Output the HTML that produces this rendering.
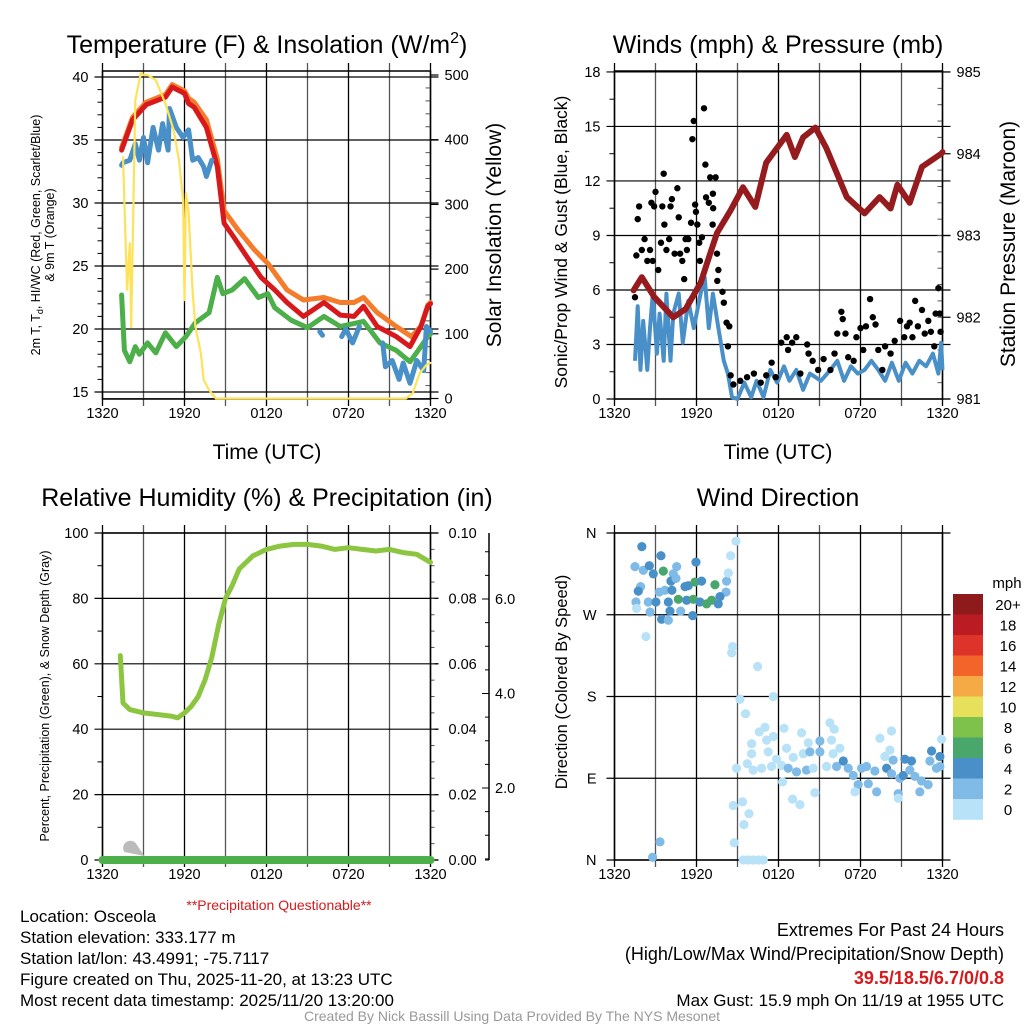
<!DOCTYPE html>
<html><head><meta charset="utf-8"><style>
body{margin:0;background:#fff}
svg{display:block;font-family:"Liberation Sans",Arial,sans-serif}
</style></head><body>
<svg id="c" width="1024" height="1024" viewBox="0 0 1024 1024" xmlns="http://www.w3.org/2000/svg">
<g id="layer"></g>
<text x="267" y="53" font-size="25" text-anchor="middle">Temperature (F) &amp; Insolation (W/m<tspan font-size="16" dy="-10">2</tspan><tspan dy="10">)</tspan></text>
<text x="778" y="53" font-size="25" text-anchor="middle">Winds (mph) &amp; Pressure (mb)</text>
<text x="267" y="506" font-size="25" text-anchor="middle">Relative Humidity (%) &amp; Precipitation (in)</text>
<text x="778" y="506" font-size="25" text-anchor="middle">Wind Direction</text>
<text x="267" y="459" font-size="21" text-anchor="middle">Time (UTC)</text>
<text x="778" y="459" font-size="21" text-anchor="middle">Time (UTC)</text>
<text transform="translate(40,235) rotate(-90)" font-size="12.5" text-anchor="middle">2m T, T<tspan font-size="9" dy="3">d</tspan><tspan dy="-3">, HI/WC (Red, Green, Scarlet/Blue)</tspan></text>
<text transform="translate(54,235) rotate(-90)" font-size="12.5" text-anchor="middle">&amp; 9m T (Orange)</text>
<text transform="translate(501,235) rotate(-90)" font-size="21" text-anchor="middle">Solar Insolation (Yellow)</text>
<text transform="translate(567,242) rotate(-90)" font-size="17.5" text-anchor="middle">Sonic/Prop Wind &amp; Gust (Blue, Black)</text>
<text transform="translate(1015,244) rotate(-90)" font-size="21" text-anchor="middle">Station Pressure (Maroon)</text>
<text transform="translate(49,696) rotate(-90)" font-size="12.5" text-anchor="middle">Percent, Precipitation (Green), &amp; Snow Depth (Gray)</text>
<text transform="translate(567,682) rotate(-90)" font-size="16.5" text-anchor="middle">Direction (Colored By Speed)</text>
<text x="279" y="910" font-size="14" fill="#d7191c" text-anchor="middle">**Precipitation Questionable**</text>
<g font-size="17">
<text x="20" y="922">Location: Osceola</text>
<text x="20" y="943">Station elevation: 333.177 m</text>
<text x="20" y="964">Station lat/lon: 43.4991; -75.7117</text>
<text x="20" y="985">Figure created on Thu, 2025-11-20, at 13:23 UTC</text>
<text x="20" y="1006">Most recent data timestamp: 2025/11/20 13:20:00</text>
</g>
<g text-anchor="end">
<text x="1004" y="936" font-size="18">Extremes For Past 24 Hours</text>
<text x="1004" y="960" font-size="18">(High/Low/Max Wind/Precipitation/Snow Depth)</text>
<text x="1004" y="984" font-size="18" fill="#d7191c" font-weight="bold">39.5/18.5/6.7/0/0.8</text>
<text x="1004" y="1006" font-size="17">Max Gust: 15.9 mph On 11/19 at 1955 UTC</text>
</g>
<text x="512" y="1021" font-size="14" fill="#999" text-anchor="middle">Created By Nick Bassill Using Data Provided By The NYS Mesonet</text>
</svg>
<script>
// ---- data (hours since 1320 UTC) ----
const xTickLabels=["1320","1920","0120","0720","1320"];
const redH=[1.4,2.2,3.2,4.6,5.1,6.0,6.3,6.7,7.6,8.4,8.9,9.6,10.4,11.6,12.6,13.5,14.7,16.2,17.4,18.4,19.1,20.1,21.5,22.5,23.3,23.8,24];
const redT=[34.2,36.6,37.8,38.4,39.2,38.7,37.9,37.6,36.0,32.9,28.4,27.3,26.0,24.1,23.1,22.1,21.0,22.1,21.1,21.0,21.8,20.2,19.4,18.6,20.2,21.8,22.0];
const orgH=[1.4,2.2,3.2,4.6,5.1,6.0,6.3,6.7,7.6,8.4,8.9,9.9,11.1,12.1,13.5,14.7,16.2,17.4,18.4,19.1,20.1,21.5,22.6,23.3,23.8,24];
const orgT=[34.4,36.8,38.0,38.6,39.4,38.9,38.3,38.0,36.6,33.5,29.4,27.9,26.3,25.2,23.1,22.3,22.5,22.1,22.1,22.5,21.3,20.2,19.4,20.2,21.9,22.1];
const grnH=[1.4,1.6,2.0,2.4,2.7,3.3,3.9,4.6,5.4,6.1,6.8,7.8,8.4,8.8,9.5,10.4,11.4,12.1,12.6,13.8,15.0,16.2,17.4,19.1,20.3,21.5,22.5,23.1,23.8,24];
const grnT=[22.7,18.3,17.4,18.6,18.0,18.9,18.1,19.7,18.6,19.4,20.5,21.3,24.1,22.8,23.1,24.0,22.5,22.8,21.7,20.7,20.1,21.0,20.2,20.6,18.9,18.3,17.4,18.3,19.4,19.6];
const bluH=[1.4,1.5,2.0,2.4,2.7,3.0,3.3,3.7,4.1,4.4,4.8,4.9,5.4,5.9,6.3,6.6,7.0,7.4,7.6,8.0,null,15.9,16.1,null,17.5,17.8,18.3,18.8,null,20.5,20.7,21.2,21.7,22.0,22.5,23.0,23.5,23.7,24];
const bluT=[33.0,33.2,33.4,34.7,33.4,35.2,33.2,36.0,34.2,36.3,34.2,37.5,36.0,35.2,35.8,33.4,33.6,32.9,32.1,33.4,null,19.8,19.5,null,19.4,20.0,18.9,20.2,null,18.9,17.0,17.5,16.0,17.3,15.7,17.5,16.7,20.2,19.8];
const insH=[1.5,1.8,2.0,2.1,2.4,2.8,3.0,3.3,3.9,4.6,5.2,5.6,5.9,6.0,6.1,6.3,6.6,6.8,7.2,7.4,7.8,8.3,22.2,22.7,23.2,23.7,24];
const insW=[373,168,240,110,461,503,500,500,492,456,415,368,307,152,317,287,163,111,70,29,13,0,0,8,39,52,55];
const presH=[1.4,2.0,2.9,4.3,5.2,6.3,7.0,7.5,8.5,9.4,10.3,11.1,12.6,13.2,13.8,14.7,15.5,17.0,18.3,19.4,20.2,20.7,21.6,22.5,23.9,24];
const presMb=[982.33,982.49,982.25,982.0,982.1,982.42,982.78,983.03,983.31,983.59,983.35,983.89,984.23,983.96,984.2,984.32,984.07,983.47,983.27,983.47,983.33,983.62,983.4,983.84,984.0,984.02];
const windH=[1.5,1.7,1.9,2.1,2.4,2.6,2.8,3.1,3.3,3.6,3.8,4.1,4.3,4.7,5.0,5.4,5.8,6.3,6.6,6.9,7.2,7.6,8.0,8.3,8.6,9.0,9.5,10.0,10.4,10.9,11.4,11.9,12.4,12.8,13.3,13.8,14.3,15.1,15.8,16.3,16.8,17.3,17.8,18.3,18.8,19.3,19.8,20.3,20.8,21.3,21.8,22.3,22.8,23.3,23.7,23.9,24];
const windMph=[2.1,5.1,1.6,4.3,1.6,3.9,5.8,2.5,4.7,2.1,5.8,2.1,4.7,5.8,3.1,5.4,3.9,5.8,6.7,3.9,5.8,3.9,2.1,1.4,0.1,0,0.9,0.1,1.0,0.1,1.6,0.9,1.8,1.0,1.6,0.5,1.4,1.0,1.6,2.1,1.0,1.8,1.4,1.6,2.1,1.6,1.0,2.0,1.0,2.0,1.4,2.1,1.8,2.5,1.4,3.1,1.6];
const gustH=[1.5,1.6,1.7,1.8,2.0,2.2,2.4,2.6,2.7,2.8,2.9,3.0,3.2,3.4,3.5,3.6,3.65,3.8,4.0,4.1,4.2,4.4,4.6,4.7,4.8,4.96,5.1,5.2,5.3,5.4,5.6,5.7,5.8,5.9,5.96,6.06,6.2,6.25,6.4,6.55,6.65,6.7,6.9,7.0,7.2,7.22,7.4,7.18,7.5,7.6,7.52,7.9,8.0,8.2,8.4,8.3,8.5,8.7,9.2,9.7,10.2,10.7,11.1,11.5,11.8,12.2,12.6,12.7,13.0,13.3,13.6,14.1,14.2,14.5,14.9,15.3,15.8,16.1,16.3,16.6,16.7,16.9,17.1,17.5,17.7,18.0,18.2,18.4,18.7,18.9,19.1,19.3,19.6,19.8,20.2,20.5,20.9,21.2,21.4,21.6,21.8,22.0,22.2,22.5,22.7,22.96,23.15,23.4,23.5,23.7,23.8,23.86];
const gustMph=[5.6,7.9,9.9,10.6,8.2,8.8,7.6,8.2,10.8,7.6,10.6,11.4,7.1,8.6,10.6,12.4,9.6,8.2,8.8,10.6,11.0,8.0,11.6,10.0,8.0,7.6,6.6,8.8,8.2,8.8,9.7,14.3,15.3,10.7,10.3,9.6,8.6,7.6,8.9,16.0,12.9,11.1,10.8,12.2,11.3,10.5,12.2,9.6,8.0,7.1,6.5,5.9,5.3,4.2,4.0,2.9,1.3,0.8,1.0,1.2,1.4,0.9,1.3,2.0,1.2,3.1,3.4,2.7,3.1,3.4,1.4,3.0,2.5,2.1,1.6,2.2,1.6,2.5,3.6,4.8,4.4,3.6,2.3,2.1,3.4,3.9,2.7,4.0,5.5,4.5,4.1,2.7,1.6,2.9,2.5,3.2,4.3,3.4,4.0,4.2,3.4,5.4,4.0,4.9,3.6,4.3,3.7,2.9,4.7,6.1,4.7,3.7];
const rhH=[1.3,1.5,2,3,4,5,5.5,6,6.5,7,7.5,8,8.5,9,9.5,10,11,12,13,14,15,16,17,18,19,20,21,22,23,24];
const rhPct=[62.5,48,46,45,44.5,44,43.5,45,47,50,55,62,72,80,84,89,93,95,96,96.5,96.5,96,95,95.5,95,94.5,95,94,93.5,91];
const precipIn=[0,0];
const dirH=[2.0,3.4,1.5,2.11,2.55,2.84,3.57,4.3,4.55,5.96,4.13,4.5,1.91,1.74,3.28,3.69,4.2,5.16,5.4,5.89,6.37,7.35,8.2,8.33,8.16,1.57,2.47,3.03,3.94,4.67,5.28,5.77,6.25,6.74,7.11,7.59,7.72,1.62,2.6,3.45,3.94,4.06,4.84,5.72,2.3,8.5,8.89,8.64,8.57,10.47,11.62,9.18,9.59,10.59,11.01,12.4,13.69,14.18,15.03,15.76,16.08,15.88,10.03,11.13,11.62,12.59,10.03,11.25,11.86,13.08,13.81,14.3,15.03,16.0,16.49,9.72,8.93,10.15,10.76,11.49,12.23,12.71,13.32,14.05,14.54,15.52,16.25,16.74,17.1,17.47,18.08,18.44,19.05,19.91,20.27,19.42,20.27,20.15,19.78,20.39,21.25,21.73,23.2,23.81,23.08,23.93,20.88,21.13,21.61,21.98,22.47,22.95,22.34,23.56,23.81,17.83,18.57,19.18,20.76,20.76,17.59,14.66,13.03,13.57,12.3,8.69,9.37,9.84,9.47,8.76,3.33,2.79,9.42,9.79,10.15,10.52,10.89];
const dirDeg=[345,335,323,319,324,315,318,315,323,328,307,310,301,296,295,297,297,301,302,306,307,303,307,316,295,284,284,284,284,287,286,287,284,282,286,282,290,277,273,265,264,274,274,269,246,335,351,235,228,213,180,177,161,141,146,145,140,129,131,151,144,132,128,132,136,123,117,119,111,113,117,119,119,117,123,106,101,99,101,103,104,101,97,99,101,103,103,109,101,93,101,103,98,101,95,134,142,121,114,110,111,109,120,114,109,133,90,93,99,92,87,83,75,101,103,83,84,75,73,68,75,74,67,61,86,60,64,51,39,19,20,3,0,0,0,0,0];
const dirSpd=[5,5,3,3,5,5,6,3,3,5,5,3,3,5,3,3,5,5,5,7,5,7,3,1,3,3,3,5,5,7,5,7,5,7,7,5,5,1,3,5,3,5,3,5,1,1,1,1,1,1,1,1,1,1,1,1,1,1,3,1,1,1,1,1,1,1,1,1,1,1,1,3,3,1,1,1,1,1,1,1,1,3,3,3,1,1,3,5,3,3,3,3,3,5,3,1,1,1,1,3,5,5,5,5,3,1,3,5,3,3,3,3,3,3,3,3,3,3,3,1,1,1,1,1,1,1,1,1,1,1,3,3,1,1,1,1,1];
const cbLabels=["20+","18","16","14","12","10","8","6","4","2","0"];
const cbColors=["#8e1a1b","#bb1c24","#de3328","#f26429","#f6aa45","#e6e05a","#7ec24b","#4aa76c","#4a90c8","#7fbbe6","#b7e2f8"];

const NS="http://www.w3.org/2000/svg";
const L=document.getElementById('layer');
function mk(tag,at,parent){const e=document.createElementNS(NS,tag);for(const k in at)e.setAttribute(k,at[k]);(parent||L).appendChild(e);return e;}
function P(x0,x1,y0,y1){return{x0,x1,y0,y1,x:h=>x0+h*(x1-x0)/24};}
const p1=P(102.5,430.5,71,399),p2=P(614.5,942.5,71,399),p3=P(102.5,430.5,533,860),p4=P(614.5,942.5,533,860);
const yT=v=>77+(40-v)*12.6, yI=v=>398.5-v*0.647;
const yW=v=>399-v*18.17, yP=v=>399-(v-981)*81.75;
const yR=v=>860-v*3.27, yPr=v=>860-v*3270;
const yD=v=>860-v*327/360;
function path(p,hs,vs,fy){let d="",pen=false;for(let i=0;i<hs.length;i++){if(hs[i]==null||vs[i]==null){pen=false;continue;}d+=(pen?"L":"M")+p.x(hs[i]).toFixed(1)+","+fy(vs[i]).toFixed(1);pen=true;}return d;}

function frame(p,name){
  const g=mk('g',{});
  
  
  for(let h=0;h<=24;h+=3){
    const x=p.x(h);
    mk('line',{x1:x,x2:x,y1:p.y0-8,y2:p.y1+7,stroke:(h%6?'#555':'#000'),'stroke-width':1.3},g);
  }
  for(let i=0;i<5;i++){
    const t=mk('text',{x:p.x(i*6),y:p.y1+19,'font-size':14.5,'text-anchor':'middle'},g);
    t.textContent=xTickLabels[i];
  }
}
function hline(p,y,g,w){mk('line',{x1:p.x0-8,x2:p.x1+8,y1:y,y2:y,stroke:'#000','stroke-width':w||1.2},g);}
function box(p){mk('rect',{x:p.x0,y:p.y0,width:p.x1-p.x0,height:p.y1-p.y0,fill:'none',stroke:'#000','stroke-width':1.5});}
function lbl(x,y,s,anchor){const t=mk('text',{x,y:y+5,'font-size':14.5,'text-anchor':anchor||'end'});t.textContent=s;return t;}

// ---- Panel 1 ----
frame(p1,'temperature');
{const g=mk('g',{});for(let v=15;v<=40;v+=5){hline(p1,yT(v),g);lbl(p1.x0-14,yT(v),String(v));}
 for(let v=16;v<40;v++){if(v%5)mk('line',{x1:p1.x0-5,x2:p1.x0,y1:yT(v),y2:yT(v),stroke:'#000'},g);}
 for(let v=0;v<=500;v+=100){mk('line',{x1:p1.x1,x2:p1.x1+8,y1:yI(v),y2:yI(v),stroke:'#000','stroke-width':1.2},g);lbl(p1.x1+14,yI(v),String(v),'start');}
 for(let v=20;v<500;v+=20){if(v%100)mk('line',{x1:p1.x1-5,x2:p1.x1,y1:yI(v),y2:yI(v),stroke:'#555'},g);}
 mk('line',{x1:p1.x0,x2:p1.x1,y1:yI(0),y2:yI(0),stroke:'#666','stroke-width':1},g);}
box(p1);
const s1=[['green-dewpoint-line',grnH,grnT,yT,'#4daf4a',5],['orange-9m-temp-line',orgH,orgT,yT,'#f47c2a',5],['red-2m-temp-line',redH,redT,yT,'#d7191c',5],['blue-windchill-line',bluH,bluT,yT,'#4a90c8',5],['yellow-insolation-line',insH,insW,yI,'#fde25a',2.2]];
for(const s of s1){const e=mk('path',{d:path(p1,s[1],s[2],s[3]),fill:'none',stroke:s[4],'stroke-width':s[5],'stroke-linejoin':'round','stroke-linecap':'round'});
 
 }

// ---- Panel 2 ----
frame(p2,'winds');
{const g=mk('g',{});for(let v=0;v<=18;v+=3){hline(p2,yW(v),g);lbl(p2.x0-14,yW(v),String(v));}
 for(let v=1.5;v<18;v+=3)mk('line',{x1:p2.x0-5,x2:p2.x0,y1:yW(v),y2:yW(v),stroke:'#000'},g);
 for(let v=981;v<=985;v++){mk('line',{x1:p2.x1,x2:p2.x1+8,y1:yP(v),y2:yP(v),stroke:'#000','stroke-width':1.2},g);lbl(p2.x1+14,yP(v),String(v),'start');}
 for(let v=981.2;v<985;v+=0.2)mk('line',{x1:p2.x1-5,x2:p2.x1,y1:yP(v),y2:yP(v),stroke:'#555'},g);}
box(p2);
{const e=mk('path',{d:path(p2,windH,windMph,yW),fill:'none',stroke:'#4a90c8','stroke-width':4,'stroke-linejoin':'round'});
 
 }
for(let i=0;i<gustH.length;i++){const c=mk('circle',{cx:p2.x(gustH[i]),cy:yW(gustMph[i]),r:3.2,fill:'#000'});
 
 }
{const e=mk('path',{d:path(p2,presH,presMb,yP),fill:'none',stroke:'#961b1e','stroke-width':6,'stroke-linejoin':'round','stroke-linecap':'round'});
 
 }

// ---- Panel 3 ----
frame(p3,'humidity');
{const g=mk('g',{});for(let v=0;v<=100;v+=20){hline(p3,yR(v),g);lbl(p3.x0-14,yR(v),String(v));}
 for(let v=10;v<100;v+=20)mk('line',{x1:p3.x0-5,x2:p3.x0,y1:yR(v),y2:yR(v),stroke:'#000'},g);
 for(let v=0;v<=0.1001;v+=0.02){mk('line',{x1:p3.x1,x2:p3.x1+8,y1:yPr(v),y2:yPr(v),stroke:'#000','stroke-width':1.2},g);lbl(p3.x1+18,yPr(v),v.toFixed(2),'start');}
 for(let v=0.005;v<0.1;v+=0.005)mk('line',{x1:p3.x1,x2:p3.x1+4,y1:yPr(v),y2:yPr(v),stroke:'#555'},g);
 mk('line',{x1:489,x2:489,y1:533,y2:860,stroke:'#000','stroke-width':1.5},g);
 const yS=v=>882.5-v*47.25;
 for(let v=0.5;v<=7;v+=0.5){const y=yS(v);if(y>=533&&y<=860)mk('line',{x1:v%2?485:482,x2:489,y1:y,y2:y,stroke:'#000'},g);}
 for(const v of [2,4,6])lbl(495,yS(v),v.toFixed(1),'start');
 mk('line',{x1:485,x2:489,y1:860,y2:860,stroke:'#000'},g);}
box(p3);
{const e=mk('path',{d:path(p3,[0,24],precipIn,yPr),fill:'none',stroke:'#4daf4a','stroke-width':8,'stroke-linecap':'round'});
 
 
 const s=mk('path',{d:`M${p3.x(1.6)},852 a7,7 0 1 1 12,-8 l8,12 z`,fill:'#bbb'});
 
 
 const r=mk('path',{d:path(p3,rhH,rhPct,yR),fill:'none',stroke:'#8cc640','stroke-width':5,'stroke-linejoin':'round','stroke-linecap':'round'});
 
 }

// ---- Panel 4 ----
frame(p4,'direction');
{const g=mk('g',{});const dl=["N","E","S","W","N"];for(let i=0;i<5;i++){hline(p4,yD(i*90),g);lbl(p4.x0-18,yD(i*90),dl[i]);}}
box(p4);
const spdColor=s=>cbColors[10-Math.min(10,Math.floor(s/2))];
for(let i=0;i<dirH.length;i++){const c=mk('circle',{cx:p4.x(dirH[i]),cy:yD(dirDeg[i]),r:4.6,fill:spdColor(dirSpd[i])});
 
 }
{const g=mk('g',{});
 
 
 const t=mk('text',{x:1007,y:588,'font-size':15,'text-anchor':'middle'},g);t.textContent='mph';
 for(let i=0;i<11;i++){mk('rect',{x:953,y:594+i*20.5,width:30,height:20.8,fill:cbColors[i]},g);
  const l=mk('text',{x:1008,y:610+i*20.5,'font-size':15,'text-anchor':'middle'},g);l.textContent=cbLabels[i];}}
</script>
</body></html>
